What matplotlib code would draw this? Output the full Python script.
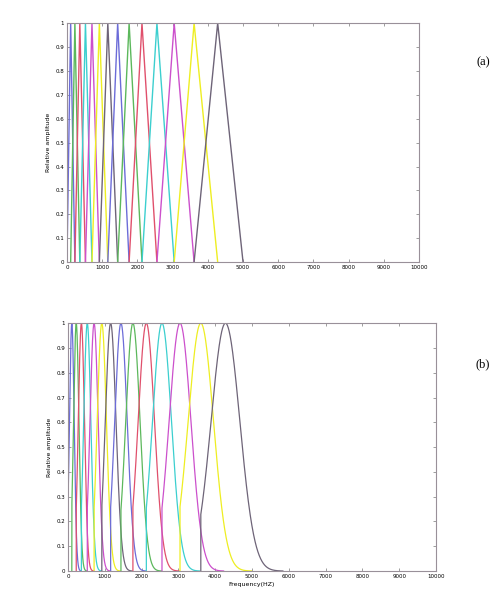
import numpy as np
import matplotlib.pyplot as plt

# filter centre frequencies (Hz), 14 filters
centres = [105, 225, 365, 525, 710, 920, 1160, 1440, 1765, 2130, 2555, 3045, 3610, 4280]
low_edge = 0
high_edge = 5000
# widths (Hz) of the smooth filters in panel (b)
widths = [64, 73, 84, 97, 111, 126, 146, 170, 194, 222, 257, 296, 344, 390]

# matlab-ish colour cycle b g r c m y k, washed out like the scan
colours = ['#6c6cd8', '#5cb85c', '#e0506c', '#3ccfcf', '#cc50cc', '#eeee22', '#6e6478']

xticks = np.arange(0, 10001, 1000)
yticks = np.round(np.arange(0, 1.01, 0.1), 1)

fig = plt.figure(figsize=(4.96, 5.93), dpi=100)
ax1 = fig.add_axes([0.135, 0.558, 0.710, 0.403])
ax2 = fig.add_axes([0.137, 0.037, 0.742, 0.418])

edges = [low_edge] + centres + [high_edge]

# (a) triangular filters
for k, c in enumerate(centres):
    ax1.plot([edges[k], c, edges[k + 2]], [0, 1, 0], color=colours[k % 7], lw=1.0)

# (b) gaussian filters, cut off at the previous centre
for k, c in enumerate(centres):
    s = widths[k]
    xs = np.linspace(edges[k], c + 4 * s, 300)
    ys = np.exp(-(xs - c) ** 2 / (2 * s ** 2))
    ax2.plot(np.r_[edges[k], xs], np.r_[0, ys], color=colours[k % 7], lw=0.9)

for ax in (ax1, ax2):
    ax.set_xlim(0, 10000)
    ax.set_ylim(0, 1)
    ax.set_xticks(xticks)
    ax.set_xticklabels([str(t) for t in xticks])
    ax.set_yticks(yticks)
    ax.set_yticklabels(['0'] + [f"{t:g}" for t in yticks[1:-1]] + ['1'])
    ax.tick_params(direction='in', length=2.5, width=0.5, labelsize=4,
                   top=True, right=True, pad=2, color='#777777')
    for sp in ax.spines.values():
        sp.set_color('#999099')
        sp.set_linewidth(0.8)
    ax.set_ylabel('Relative amplitude', fontsize=4.5, labelpad=3)

ax2.set_xlabel('Frequency(HZ)', fontsize=4.5, labelpad=2)

fig.text(0.974, 0.895, '(a)', fontsize=9, family='Liberation Serif', ha='center', va='center')
fig.text(0.974, 0.385, '(b)', fontsize=9, family='Liberation Serif', ha='center', va='center')

plt.savefig('out.png', dpi=100)
